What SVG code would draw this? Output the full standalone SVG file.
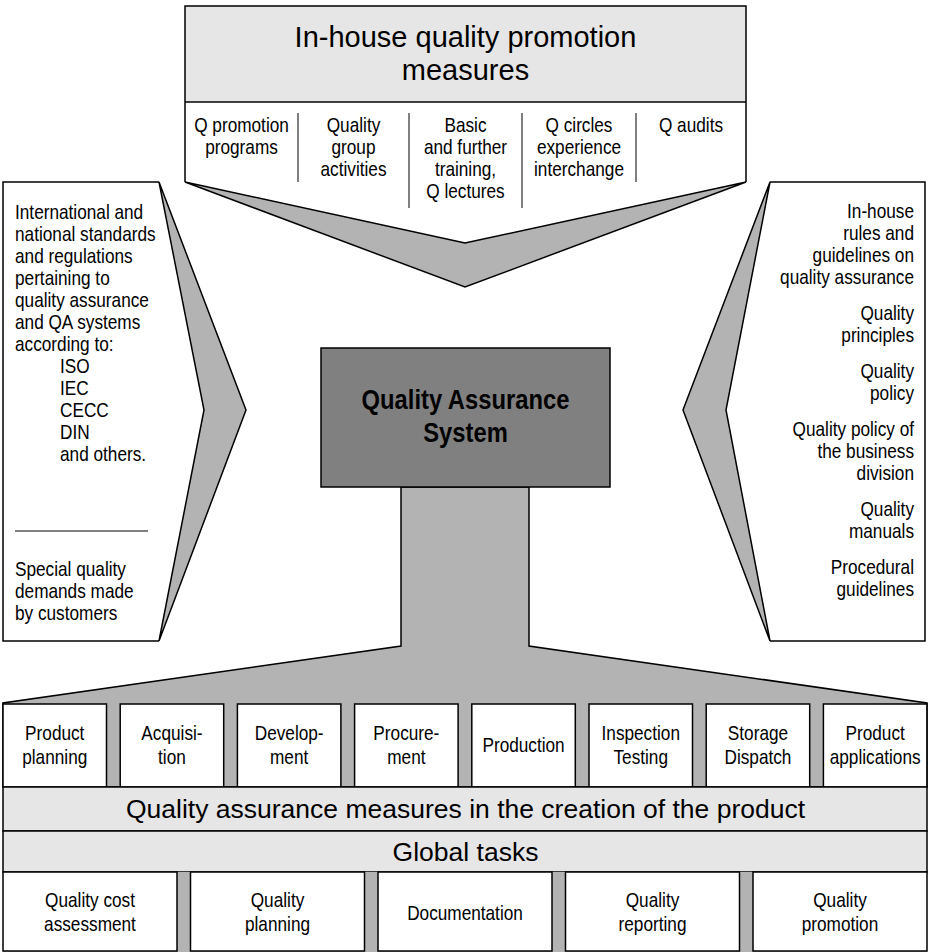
<svg xmlns="http://www.w3.org/2000/svg" width="928" height="952" viewBox="0 0 928 952">
<defs>
<style>
.ln{stroke:#000;stroke-width:1.5;fill:none;stroke-linejoin:miter}
.thin{stroke:#000;stroke-width:1;fill:none}
.gray{fill:#b3b3b3;stroke:#000;stroke-width:1.5;stroke-linejoin:miter}
.light{fill:#e6e6e6;stroke:#000;stroke-width:1.5}
.white{fill:#fff;stroke:#000;stroke-width:1.5}
.dark{fill:#808080;stroke:#000;stroke-width:1.5}
.n{font-family:"Liberation Sans",Arial,sans-serif;font-size:21px;fill:#000}
.c{text-anchor:middle}
.r{text-anchor:end}
.big{font-family:"Liberation Sans",Arial,sans-serif;font-size:29px;fill:#000;text-anchor:middle}
.band{font-family:"Liberation Sans",Arial,sans-serif;font-size:26.5px;fill:#000;text-anchor:middle}
.bold{font-family:"Liberation Sans",Arial,sans-serif;font-size:28px;font-weight:bold;fill:#000;text-anchor:middle}
</style>
</defs>
<rect width="928" height="952" fill="#fff"/>

<g id="connectors">
  <polygon class="gray" points="185,182 465,287 746,182 465,243"/>
  <polygon class="gray" points="159,182 246,410 159,641 204,410"/>
  <polygon class="gray" points="770,182 683,410 770,641 726,410"/>
  <polygon class="gray" points="401,487 401,646 3,703 3,787 927,787 927,703 529,646 529,487"/>
</g>

<g id="top-box">
  <rect x="185" y="6" width="561" height="96" fill="#e6e6e6"/>
  <path class="ln" d="M185,182 V6 H746 V182"/>
  <line class="ln" x1="185" y1="102" x2="746" y2="102"/>
  <text class="big" x="465.5" y="47">In-house quality promotion</text>
  <text class="big" x="465.5" y="80">measures</text>
  <line class="thin" x1="298" y1="113" x2="298" y2="182"/>
  <line class="thin" x1="409" y1="113" x2="409" y2="208"/>
  <line class="thin" x1="522" y1="113" x2="522" y2="208"/>
  <line class="thin" x1="636" y1="113" x2="636" y2="182"/>
  <text class="n c" transform="translate(241.5,132) scale(0.82,1)">Q promotion</text>
  <text class="n c" transform="translate(241.5,154) scale(0.82,1)">programs</text>
  <text class="n c" transform="translate(353.5,132) scale(0.82,1)">Quality</text>
  <text class="n c" transform="translate(353.5,154) scale(0.82,1)">group</text>
  <text class="n c" transform="translate(353.5,176) scale(0.82,1)">activities</text>
  <text class="n c" transform="translate(465.5,132) scale(0.82,1)">Basic</text>
  <text class="n c" transform="translate(465.5,154) scale(0.82,1)">and further</text>
  <text class="n c" transform="translate(465.5,176) scale(0.82,1)">training,</text>
  <text class="n c" transform="translate(465.5,198) scale(0.82,1)">Q lectures</text>
  <text class="n c" transform="translate(579,132) scale(0.82,1)">Q circles</text>
  <text class="n c" transform="translate(579,154) scale(0.82,1)">experience</text>
  <text class="n c" transform="translate(579,176) scale(0.82,1)">interchange</text>
  <text class="n c" transform="translate(691,132) scale(0.82,1)">Q audits</text>
</g>

<g id="left-panel">
  <path class="ln" d="M159,182 H3 V641 H159"/>
  <text class="n" transform="translate(15,219) scale(0.82,1)">International and</text>
  <text class="n" transform="translate(15,241) scale(0.82,1)">national standards</text>
  <text class="n" transform="translate(15,263) scale(0.82,1)">and regulations</text>
  <text class="n" transform="translate(15,285) scale(0.82,1)">pertaining to</text>
  <text class="n" transform="translate(15,307) scale(0.82,1)">quality assurance</text>
  <text class="n" transform="translate(15,329) scale(0.82,1)">and QA systems</text>
  <text class="n" transform="translate(15,351) scale(0.82,1)">according to:</text>
  <text class="n" transform="translate(60,373) scale(0.82,1)">ISO</text>
  <text class="n" transform="translate(60,395) scale(0.82,1)">IEC</text>
  <text class="n" transform="translate(60,417) scale(0.82,1)">CECC</text>
  <text class="n" transform="translate(60,439) scale(0.82,1)">DIN</text>
  <text class="n" transform="translate(60,461) scale(0.82,1)">and others.</text>
  <line class="thin" x1="15" y1="531" x2="148" y2="531"/>
  <text class="n" transform="translate(15,576) scale(0.82,1)">Special quality</text>
  <text class="n" transform="translate(15,598) scale(0.82,1)">demands made</text>
  <text class="n" transform="translate(15,620) scale(0.82,1)">by customers</text>
</g>

<g id="right-panel">
  <path class="ln" d="M770,182 H925 V641 H770"/>
  <text class="n r" transform="translate(914,218) scale(0.82,1)">In-house</text>
  <text class="n r" transform="translate(914,240) scale(0.82,1)">rules and</text>
  <text class="n r" transform="translate(914,262) scale(0.82,1)">guidelines on</text>
  <text class="n r" transform="translate(914,284) scale(0.82,1)">quality assurance</text>
  <text class="n r" transform="translate(914,320) scale(0.82,1)">Quality</text>
  <text class="n r" transform="translate(914,342) scale(0.82,1)">principles</text>
  <text class="n r" transform="translate(914,378) scale(0.82,1)">Quality</text>
  <text class="n r" transform="translate(914,400) scale(0.82,1)">policy</text>
  <text class="n r" transform="translate(914,436) scale(0.82,1)">Quality policy of</text>
  <text class="n r" transform="translate(914,458) scale(0.82,1)">the business</text>
  <text class="n r" transform="translate(914,480) scale(0.82,1)">division</text>
  <text class="n r" transform="translate(914,516) scale(0.82,1)">Quality</text>
  <text class="n r" transform="translate(914,538) scale(0.82,1)">manuals</text>
  <text class="n r" transform="translate(914,574) scale(0.82,1)">Procedural</text>
  <text class="n r" transform="translate(914,596) scale(0.82,1)">guidelines</text>
</g>

<g id="qa-system">
  <rect class="dark" x="321" y="348" width="289" height="139"/>
  <text class="bold" transform="translate(465.5,409) scale(0.85,1)">Quality Assurance</text>
  <text class="bold" transform="translate(465.5,442) scale(0.85,1)">System</text>
</g>

<g id="process-steps">
  <g id="step-product-planning"><rect class="white" x="3" y="704" width="103.5" height="83"/><text class="n c" transform="translate(54.75,740) scale(0.82,1)">Product</text><text class="n c" transform="translate(54.75,764) scale(0.82,1)">planning</text></g>
  <g id="step-acquisition"><rect class="white" x="120.2" y="704" width="103.5" height="83"/><text class="n c" transform="translate(171.95,740) scale(0.82,1)">Acquisi-</text><text class="n c" transform="translate(171.95,764) scale(0.82,1)">tion</text></g>
  <g id="step-development"><rect class="white" x="237.4" y="704" width="103.5" height="83"/><text class="n c" transform="translate(289.15,740) scale(0.82,1)">Develop-</text><text class="n c" transform="translate(289.15,764) scale(0.82,1)">ment</text></g>
  <g id="step-procurement"><rect class="white" x="354.6" y="704" width="103.5" height="83"/><text class="n c" transform="translate(406.35,740) scale(0.82,1)">Procure-</text><text class="n c" transform="translate(406.35,764) scale(0.82,1)">ment</text></g>
  <g id="step-production"><rect class="white" x="471.8" y="704" width="103.5" height="83"/><text class="n c" transform="translate(523.55,752) scale(0.82,1)">Production</text></g>
  <g id="step-inspection"><rect class="white" x="589" y="704" width="103.5" height="83"/><text class="n c" transform="translate(640.75,740) scale(0.82,1)">Inspection</text><text class="n c" transform="translate(640.75,764) scale(0.82,1)">Testing</text></g>
  <g id="step-storage"><rect class="white" x="706.2" y="704" width="103.5" height="83"/><text class="n c" transform="translate(757.95,740) scale(0.82,1)">Storage</text><text class="n c" transform="translate(757.95,764) scale(0.82,1)">Dispatch</text></g>
  <g id="step-applications"><rect class="white" x="823.4" y="704" width="103.5" height="83"/><text class="n c" transform="translate(875.15,740) scale(0.82,1)">Product</text><text class="n c" transform="translate(875.15,764) scale(0.82,1)">applications</text></g>
</g>

<g id="qa-measures-band">
  <rect class="light" x="3" y="787" width="924" height="44"/>
  <text class="band" x="465.5" y="818">Quality assurance measures in the creation of the product</text>
</g>

<g id="global-tasks-band">
  <rect class="light" x="3" y="831" width="924" height="41"/>
  <text class="band" x="465.5" y="861">Global tasks</text>
</g>

<g id="global-tasks">
  <rect x="3" y="872" width="924" height="80" fill="#b3b3b3" stroke="none"/>
  <g id="task-cost"><rect class="white" x="3" y="872" width="174" height="79"/><text class="n c" transform="translate(90,907) scale(0.82,1)">Quality cost</text><text class="n c" transform="translate(90,931) scale(0.82,1)">assessment</text></g>
  <g id="task-planning"><rect class="white" x="190.5" y="872" width="174" height="79"/><text class="n c" transform="translate(277.5,907) scale(0.82,1)">Quality</text><text class="n c" transform="translate(277.5,931) scale(0.82,1)">planning</text></g>
  <g id="task-documentation"><rect class="white" x="378" y="872" width="174" height="79"/><text class="n c" transform="translate(465,920) scale(0.82,1)">Documentation</text></g>
  <g id="task-reporting"><rect class="white" x="565.5" y="872" width="174" height="79"/><text class="n c" transform="translate(652.5,907) scale(0.82,1)">Quality</text><text class="n c" transform="translate(652.5,931) scale(0.82,1)">reporting</text></g>
  <g id="task-promotion"><rect class="white" x="753" y="872" width="174" height="79"/><text class="n c" transform="translate(840,907) scale(0.82,1)">Quality</text><text class="n c" transform="translate(840,931) scale(0.82,1)">promotion</text></g>
</g>
</svg>
